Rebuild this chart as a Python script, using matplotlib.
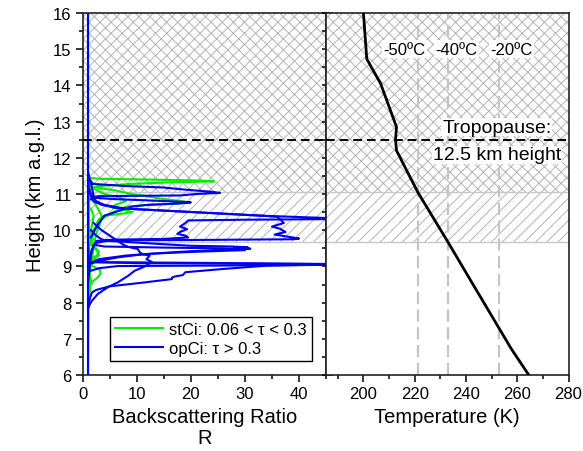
import matplotlib
matplotlib.use("Agg")
import matplotlib.pyplot as plt
from matplotlib.ticker import MultipleLocator

plt.rcParams['font.family'] = ['Liberation Sans', 'DejaVu Sans']
plt.rcParams['hatch.linewidth'] = 0.75

# ---------------- data ----------------
# temperature profile (right panel)
temp_h = [16.0, 14.73, 14.05, 12.85, 12.5, 12.2, 11.05, 9.68, 8.4, 6.72, 6.0]
temp_T = [200.0, 201.3, 206.7, 212.9, 212.5, 212.9, 221.2, 232.9, 243.6, 257.7, 264.5]

# isotherm reference lines (K) and their labels
iso_T = [221.3, 233.1, 253.0]
iso_label_T = [216.0, 236.3, 257.8]
iso_labels = ['-50ºC', '-40ºC', '-20ºC']

tropopause_h = 12.5
cloud_top_h = 11.05
cloud_base_h = 9.68

# stCi backscattering ratio profiles (green)
g1_h = [16.0, 11.6, 11.45, 11.42, 11.40, 11.37, 11.35, 11.32, 11.28, 11.22, 11.15, 11.0, 6.0]
g1_R = [1.0, 1.0, 1.1, 3.0, 12.0, 22.0, 24.3, 16.0, 9.0, 3.0, 1.5, 1.2, 1.0]
g2_h = [11.4, 11.2, 11.1, 11.0, 10.95, 10.88, 10.8, 10.77, 10.73, 10.70, 10.65, 10.55,
        10.45, 10.3, 10.1, 9.9, 9.7, 9.5, 9.3, 9.1, 8.9, 8.7, 8.5]
g2_R = [1.0, 1.5, 6.0, 9.0, 11.5, 14.0, 18.5, 19.8, 17.0, 12.0, 8.0, 6.5,
        5.0, 3.5, 3.0, 2.5, 2.2, 2.0, 1.8, 1.5, 1.3, 1.2, 1.0]
g3_h = [11.3, 11.15, 11.0, 10.9, 10.8, 10.7, 10.62, 10.55, 10.5, 10.45, 10.4, 10.3,
        10.2, 10.0, 9.8, 9.6, 9.4, 9.3, 9.2, 9.0, 8.8, 8.6, 8.4]
g3_R = [1.0, 2.0, 4.0, 7.0, 8.0, 6.0, 5.5, 8.0, 9.2, 7.0, 4.0, 3.0,
        2.6, 2.2, 1.8, 1.6, 2.8, 3.0, 2.0, 1.5, 1.3, 1.1, 1.0]
g4_h = [11.0, 10.8, 10.6, 10.4, 10.2, 10.0, 9.8, 9.6, 9.5, 9.4, 9.3, 9.2, 9.1, 9.0,
        8.9, 8.8, 8.7, 8.6, 8.5, 8.3, 8.1, 7.9]
g4_R = [1.2, 2.0, 2.8, 3.5, 3.0, 2.0, 1.6, 1.4, 2.5, 3.0, 2.6, 1.5, 1.3, 2.0,
        3.2, 3.3, 2.8, 2.0, 1.5, 1.3, 1.1, 1.0]
g5_h = [10.6, 10.4, 10.2, 10.0, 9.8, 9.6, 9.4, 9.2, 9.0, 8.8, 8.6, 8.4, 8.2]
g5_R = [1.5, 2.0, 1.8, 1.5, 1.2, 1.0, 1.4, 2.2, 1.4, 1.1, 1.6, 1.2, 1.0]

# opCi backscattering ratio profiles (blue)
b0_h = [6.0, 16.0]
b0_R = [1.0, 1.0]
b1_h = [11.6, 11.4, 11.28, 11.22, 11.18, 11.12, 11.06, 11.03, 11.0, 10.96, 10.95,
        10.94, 10.92, 10.85]
b1_R = [1.0, 1.3, 1.8, 8.0, 14.9, 19.0, 24.0, 25.4, 21.0, 18.0, 10.0, 3.0, 1.8, 1.5]
b2_h = [11.5, 11.3, 11.1, 10.95, 10.9, 10.86, 10.83, 10.8, 10.77, 10.74, 10.7, 10.65,
        10.6, 10.5, 10.4, 10.2, 10.0, 9.8]
b2_R = [1.0, 1.5, 1.8, 2.0, 1.8, 5.7, 11.0, 16.0, 20.0, 18.0, 12.0, 9.0,
        8.0, 6.0, 4.0, 3.0, 2.2, 1.5]
b3_h = [11.2, 11.0, 10.9, 10.8, 10.7, 10.62, 10.59, 10.5, 10.4, 10.31, 10.29, 10.27,
        10.2, 10.1, 10.03, 9.95, 9.9, 9.85, 9.8, 9.76, 9.74, 9.72, 9.7, 9.5, 9.2, 8.8]
b3_R = [1.0, 1.5, 2.0, 2.5, 4.0, 7.0, 8.7, 20.4, 33.3, 50.0, 30.0, 19.5,
        19.0, 18.0, 19.3, 18.0, 17.5, 19.0, 19.5, 15.0, 6.0, 3.5, 2.5, 1.8, 1.3, 1.0]
b4_h = [11.3, 11.1, 10.95, 10.8, 10.7, 10.62, 10.59, 10.5, 10.4, 10.37, 10.3, 10.2,
        10.1, 10.04, 9.95, 9.88, 9.82, 9.77, 9.75, 9.73, 9.72, 9.65, 9.55, 9.4, 9.0, 8.6]
b4_R = [1.0, 1.2, 1.5, 2.0, 3.5, 6.0, 8.7, 20.4, 33.3, 36.0, 36.5, 37.2,
        35.0, 36.5, 37.5, 35.5, 38.0, 40.0, 39.0, 20.0, 5.0, 2.5, 2.0, 1.6, 1.3, 1.0]
b5_h = [10.2, 10.0, 9.9, 9.8, 9.7, 9.6, 9.54, 9.48, 9.4, 9.34, 9.3, 9.2, 9.12, 9.05,
        9.0, 8.88, 8.74, 8.56, 8.43, 8.24, 8.05, 7.95, 7.85]
b5_R = [2.0, 3.5, 4.5, 5.5, 6.5, 7.5, 8.4, 10.2, 10.5, 11.0, 12.4, 11.8, 12.8, 12.0,
        11.5, 9.6, 8.4, 6.5, 4.7, 2.8, 1.7, 1.3, 1.0]
b6_h = [10.0, 9.85, 9.75, 9.71, 9.64, 9.57, 9.55, 9.53, 9.51, 9.49, 9.47, 9.45, 9.43,
        9.40, 9.36, 9.33, 9.25, 9.15, 9.07, 9.0, 8.8]
b6_R = [1.5, 2.5, 3.5, 4.4, 12.0, 20.0, 27.5, 30.5, 28.0, 31.0, 28.5, 30.0, 26.0,
        20.0, 14.0, 10.9, 6.5, 3.0, 1.2, 1.0, 1.0]
b7_h = [9.6, 9.55, 9.52, 9.5, 9.48, 9.46, 9.42, 9.35, 9.3, 9.2, 9.1, 9.0]
b7_R = [2.0, 4.0, 15.0, 26.0, 29.5, 27.0, 20.0, 12.5, 8.0, 3.0, 1.5, 1.0]
b8_h = [9.6, 9.2, 9.12, 9.1, 9.06, 9.03, 9.01, 8.95, 8.88, 8.85, 8.6]
b8_R = [1.0, 1.1, 1.3, 20.0, 52.0, 34.0, 6.5, 3.0, 1.5, 1.0, 1.0]
b9_h = [9.3, 9.12, 9.09, 9.06, 9.02, 8.93, 8.84, 8.76, 8.72, 8.69, 8.65, 8.55, 8.45,
        8.35, 8.28, 8.1, 7.95, 7.85]
b9_R = [1.0, 1.2, 10.0, 50.0, 34.0, 26.0, 19.0, 18.5, 17.0, 16.5, 16.5, 11.0, 5.0,
        2.5, 1.7, 1.3, 1.1, 1.0]

green_profiles = [(g1_R, g1_h), (g2_R, g2_h), (g3_R, g3_h), (g4_R, g4_h), (g5_R, g5_h)]
blue_profiles = [(b0_R, b0_h), (b1_R, b1_h), (b2_R, b2_h), (b3_R, b3_h), (b4_R, b4_h),
                 (b5_R, b5_h), (b6_R, b6_h), (b7_R, b7_h), (b8_R, b8_h), (b9_R, b9_h)]

# ---------------- figure ----------------
fig = plt.figure(figsize=(5.83, 4.52), dpi=100)
axL = fig.add_axes([0.1419, 0.1681, 0.4173, 0.8009])
axR = fig.add_axes([0.5592, 0.1681, 0.4160, 0.8009])

hatch_gray = '#b8b8b8'
for ax in (axL, axR):
    ax.axhspan(cloud_top_h, 16, facecolor='none', edgecolor=hatch_gray, hatch='xxx',
               linewidth=0, zorder=0)
    ax.axhspan(cloud_base_h, cloud_top_h, facecolor='none', edgecolor=hatch_gray,
               hatch='///', linewidth=0, zorder=0)
    ax.axhline(cloud_top_h, color='#c8c8c8', lw=1.0, zorder=0.5)
    ax.axhline(cloud_base_h, color='#c8c8c8', lw=1.0, zorder=0.5)
    ax.axhline(tropopause_h, color='black', lw=1.4, dashes=(4.5, 2.5), zorder=6)
    ax.set_ylim(6, 16)
    ax.yaxis.set_major_locator(MultipleLocator(1))
    ax.yaxis.set_minor_locator(MultipleLocator(0.5))
    for s in ax.spines.values():
        s.set_linewidth(1.2)
        s.set_color('#222222')

# left panel
for i, (R, h) in enumerate(green_profiles):
    axL.plot(R, h, color='#00ee00', lw=1.5, zorder=2,
             label='stCi: 0.06 < τ < 0.3' if i == 0 else None)
for i, (R, h) in enumerate(blue_profiles):
    axL.plot(R, h, color='#0000f0', lw=1.5, zorder=3,
             label='opCi: τ > 0.3' if i == 0 else None)
axL.set_xlim(0, 45)
axL.xaxis.set_major_locator(MultipleLocator(10))
axL.xaxis.set_minor_locator(MultipleLocator(5))
axL.tick_params(axis='both', which='major', labelsize=12, length=5, width=1.1,
                direction='out', pad=3)
axL.tick_params(axis='both', which='minor', length=3, width=1.1, direction='out')
axL.tick_params(axis='y', which='both', right=True, labelright=False)
axL.set_ylabel('Height (km a.g.l.)', fontsize=14.5, labelpad=6)
axL.set_xlabel('Backscattering Ratio\nR', fontsize=14.5, labelpad=4, linespacing=1.15)
leg = axL.legend(loc='lower right', bbox_to_anchor=(0.941, 0.0395), borderaxespad=0,
                 fontsize=12, fancybox=False, framealpha=1, edgecolor='black',
                 handlelength=2.9, handletextpad=0.35, borderpad=0.3, labelspacing=0.25)
leg.get_frame().set_linewidth(1.0)
leg.set_zorder(10)

# right panel
axR.plot(temp_T, temp_h, color='black', lw=2.0, zorder=5)
for T in iso_T:
    axR.axvline(T, color='#c4c4c4', lw=1.6, dashes=(5.5, 2.5), zorder=1)
for T, lab in zip(iso_label_T, iso_labels):
    axR.text(T, 15.0, lab, fontsize=12, ha='center', va='center', zorder=7,
             bbox=dict(facecolor='white', edgecolor='none', pad=1.0))
axR.text(252.0, 12.85, 'Tropopause:', fontsize=14, ha='center', va='center', zorder=5.5,
         bbox=dict(facecolor='white', edgecolor='none', pad=0.5))
axR.text(252.0, 12.08, '12.5 km height', fontsize=14, ha='center', va='center', zorder=5.5,
         bbox=dict(facecolor='white', edgecolor='none', pad=0.5))
axR.set_xlim(185.4, 280)
axR.xaxis.set_major_locator(MultipleLocator(20))
axR.xaxis.set_minor_locator(MultipleLocator(10))
axR.tick_params(axis='both', which='major', labelsize=12, length=5, width=1.1,
                direction='out', pad=3)
axR.tick_params(axis='both', which='minor', length=3, width=1.1, direction='out')
axR.tick_params(axis='y', which='both', labelleft=False, length=3)
axR.set_xlabel('Temperature (K)', fontsize=14.5, labelpad=4)

fig.savefig('out.png', dpi=100)
